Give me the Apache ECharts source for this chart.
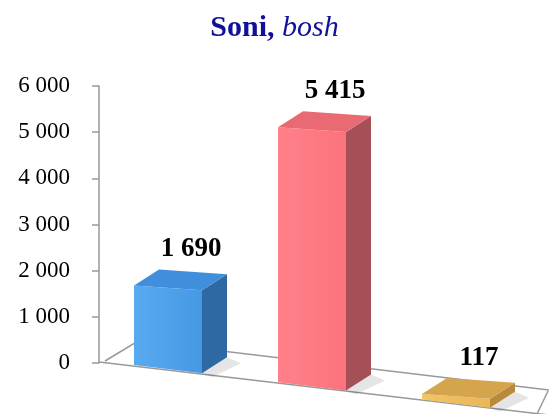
<!DOCTYPE html>
<html><head><meta charset="utf-8">
<script src="https://cdn.jsdelivr.net/npm/echarts@6/dist/echarts.min.js"></script>
<style>html,body{margin:0;padding:0;background:#fff}#c{width:549px;height:414px}</style>
</head><body><div id="c"></div>
<script>
// ---- data ----
const categories = ['1', '2', '3'];
const values = [1690, 5415, 117];
const yMin = 0, yMax = 6000, yStep = 1000;
const titleMain = 'Soni,';
const titleSub = 'bosh';

// ---- styles ----
const SERIF = 'Liberation Serif';
const palette = [
  { front0: '#58aaf0', front1: '#4798e3', side: '#2f69a3', top: '#3f8fdc' },
  { front0: '#ff808a', front1: '#fb737c', side: '#a54f56', top: '#ea6a73' },
  { front0: '#f2c463', front1: '#e8b758', side: '#b98a3b', top: '#d5a54e' }
];

function fmt(n) { return String(n).replace(/\B(?=(\d{3})+(?!\d))/g, '\u00a0'); }

function renderItem(params, api) {
  const i = api.value(0), v = api.value(1);
  const base = api.coord([i, 0]);
  const topP = api.coord([i, v]);
  const h = (base[1] - topP[1]) * 1.02;
  const first = api.coord([0, 0]);
  const W = 68, DX = 25, DY = -16;
  const L = base[0] - W / 2 - 3, R = L + W;
  const x0 = first[0] - W / 2 - 3;
  const fy = x => base[1] + 2 + (x - x0) * 0.12;
  const bl = [L, fy(L)], br = [R, fy(R)];
  const tl = [L, bl[1] - h], tr = [R, bl[1] - h + W * 0.07];
  const btl = [tl[0] + DX, tl[1] + DY], btr = [tr[0] + DX, tr[1] + DY], bbr = [br[0] + DX, br[1] + DY];
  const c = palette[i];
  return {
    type: 'group',
    children: [
      { type: 'polygon', shape: { points: [br, bbr, [bbr[0] + 14, bbr[1] + 6], [br[0] + 10, br[1] + 4]] },
        style: { fill: 'rgba(0,0,0,0.10)' } },
      { type: 'polygon', shape: { points: [bl, br, tr, tl] },
        style: { fill: new echarts.graphic.LinearGradient(0, 0, 1, 0, [
          { offset: 0, color: c.front0 }, { offset: 1, color: c.front1 }]) } },
      { type: 'polygon', shape: { points: [br, bbr, btr, tr] }, style: { fill: c.side } },
      { type: 'polygon', shape: { points: [tl, tr, btr, btl] }, style: { fill: c.top } },
      { type: 'text', style: { text: fmt(v), x: L + W / 2 + 23, y: tl[1] - 36,
          align: 'center', verticalAlign: 'middle',
          fontFamily: SERIF, fontWeight: 'bold', fontSize: 27, fill: '#000' } }
    ]
  };
}

const chart = echarts.init(document.getElementById('c'), null, { renderer: 'canvas' });
chart.setOption({
  animation: false,
  backgroundColor: '#fff',
  title: {
    text: '{b|' + titleMain + ' }{i|' + titleSub + '}',
    left: 'center', top: 8,
    textStyle: {
      fontFamily: SERIF,
      rich: {
        b: { fontFamily: SERIF, fontWeight: 'bold', fontSize: 30, color: '#10109a' },
        i: { fontFamily: SERIF, fontStyle: 'italic', fontWeight: 'normal', fontSize: 30, color: '#10109a' }
      }
    }
  },
  grid: { left: 99, right: 18, top: 86, bottom: 51 },
  xAxis: {
    type: 'category', data: categories,
    axisLine: { show: false }, axisTick: { show: false }, axisLabel: { show: false }, splitLine: { show: false }
  },
  yAxis: {
    type: 'value', min: yMin, max: yMax, interval: yStep,
    axisLine: { show: true, lineStyle: { color: '#999', width: 1.5 } },
    axisTick: { show: true, length: 7, lineStyle: { color: '#999', width: 1.5 } },
    splitLine: { show: false },
    axisLabel: { formatter: fmt, fontFamily: SERIF, fontSize: 23, color: '#000', margin: 29 }
  },
  graphic: [
    { type: 'polyline', silent: true, shape: { points: [[105, 361], [138, 341], [549, 390]] },
      style: { stroke: '#999', lineWidth: 1.5, fill: null } },
    { type: 'line', silent: true, shape: { x1: 99, y1: 362, x2: 549, y2: 415 },
      style: { stroke: '#999', lineWidth: 1.5 } },
    { type: 'line', silent: true, shape: { x1: 548, y1: 391, x2: 537, y2: 414 },
      style: { stroke: '#999', lineWidth: 1.5 } }
  ],
  series: [{
    type: 'custom',
    renderItem: renderItem,
    encode: { x: 0, y: 1 },
    data: values.map((v, i) => [i, v]),
    z: 5
  }]
});
</script></body></html>
